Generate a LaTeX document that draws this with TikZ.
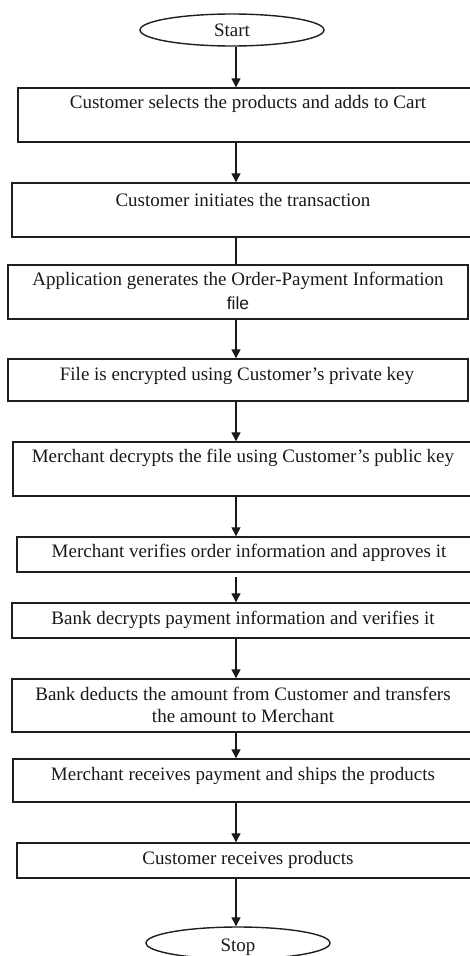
\documentclass[tikz,border=0pt]{standalone}
\usepackage{fontspec}
\setmainfont{Liberation Serif}
\newfontfamily\plainsans{Liberation Sans}
\usetikzlibrary{shapes.geometric,arrows.meta}

\tikzset{
  ink/.style={draw=black!88, line width=1.4pt},
  stepbox/.style={ink, rectangle, inner sep=0pt},
  terminal/.style={ink, ellipse, inner sep=0pt, minimum width=184pt, minimum height=32pt},
  lbl/.style={inner sep=0pt, font=\fontsize{19}{24}\selectfont, align=center, text=black!90},
  flow/.style={draw=black!90, line width=1.3pt, -{Triangle[length=9pt,width=9pt]}},
  plain/.style={draw=black!90, line width=1.3pt}
}

% box from left/top/right/bottom in pixel units (y grows downwards)
\newcommand{\flowbox}[5]{%
  \node[stepbox, minimum width={(#4-#2)*1pt}, minimum height={(#5-#3)*1pt}]
    (#1) at ({(#2+#4)/2},{(#3+#5)/2}) {};}

\begin{document}
\begin{tikzpicture}[x=1pt, y=-1pt]
  \useasboundingbox (0,0) rectangle (470,956);

  % vertical axis the connectors run along
  \coordinate (axis) at (236,0);

  % terminals
  \node[terminal] (start) at (232,30) {};
  \node[lbl] (tstart) at (232,30) {Start};
  \node[terminal] (stop) at (238,943) {};
  \node[lbl] (tstop) at (238,947) {Stop};

  % process boxes
  \flowbox{b1}{18}{88}{476}{142}
  \flowbox{b2}{12}{183}{476}{237}
  \flowbox{b3}{8}{265}{468}{319}
  \flowbox{b4}{8}{359}{468}{401}
  \flowbox{b5}{13}{442}{476}{496}
  \flowbox{b6}{17}{537}{476}{572}
  \flowbox{b7}{12}{603}{476}{638}
  \flowbox{b8}{12}{679}{476}{732}
  \flowbox{b9}{13}{759}{476}{802}
  \flowbox{b10}{17}{843}{476}{878}

  % box texts
  \node[lbl] (t1) at (248,104) {Customer selects the products and adds to Cart};
  \node[lbl] (t2) at (243,200) {Customer initiates the transaction};
  \node[lbl] (t3a) at (238,281) {Application generates the Order-Payment Information};
  \node[lbl, font=\plainsans\fontsize{17.5}{22}\selectfont] (t3b) at (238,303) {file};
  \node[lbl] (t4) at (237,376) {File is encrypted using Customer's private key};
  \node[lbl] (t5) at (243,458) {Merchant decrypts the file using Customer's public key};
  \node[lbl] (t6) at (249,553) {Merchant verifies order information and approves it};
  \node[lbl] (t7) at (243,620) {Bank decrypts payment information and verifies it};
  \node[lbl] (t8a) at (243,694) {Bank deducts the amount from Customer and transfers};
  \node[lbl] (t8b) at (243,716) {the amount to Merchant};
  \node[lbl] (t9) at (243,776) {Merchant receives payment and ships the products};
  \node[lbl] (t10) at (248,860) {Customer receives products};

  % connectors
  \draw[flow] (start.south -| axis) -- (b1.north -| axis);
  \draw[flow] (b1.south -| axis) -- (b2.north -| axis);
  \draw[plain] (b2.south -| axis) -- (b3.north -| axis);
  \draw[flow] (b3.south -| axis) -- (b4.north -| axis);
  \draw[flow] (b4.south -| axis) -- (b5.north -| axis);
  \draw[flow] (b5.south -| axis) -- (b6.north -| axis);
  \draw[flow, shorten <=4pt] (b6.south -| axis) -- (b7.north -| axis);
  \draw[flow] (b7.south -| axis) -- (b8.north -| axis);
  \draw[flow] (b8.south -| axis) -- (b9.north -| axis);
  \draw[flow] (b9.south -| axis) -- (b10.north -| axis);
  \draw[flow] (b10.south -| axis) -- (stop.north -| axis);
\end{tikzpicture}
\end{document}
